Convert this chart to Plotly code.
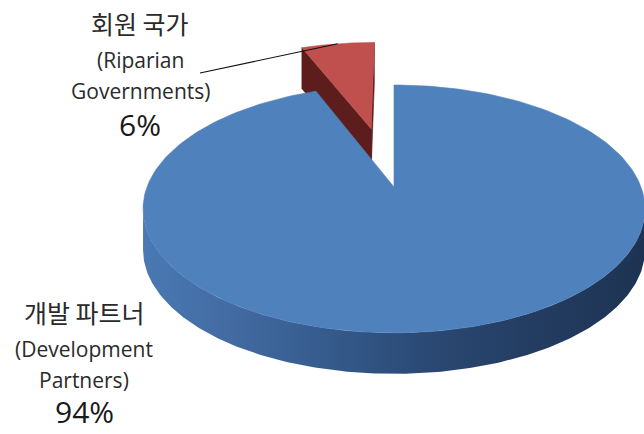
import numpy as np
import plotly.graph_objects as go

# Funding shares, clockwise from 12 o'clock
labels_ko = ["개발 파트너", "회원 국가"]
labels_en = [["(Development", "Partners)"], ["(Riparian", "Governments)"]]
shares = [94, 6]

top_colors = ["#4F81BD", "#C0504D"]
face_colors = ["#2c4c7a", "#5c1d1c"]
side_scales = [
    [[0.0, "#4a79b3"], [0.2, "#4169a0"], [0.4, "#335888"], [0.55, "#2b4a76"],
     [0.75, "#243e63"], [1.0, "#1e3353"]],
    [[0.0, "#8a3533"], [1.0, "#5c1d1c"]],
]
explode = [0.0, 0.54]

# Projection of the disc's top onto the page (page pixels, y down);
# the wall is an extrusion straight down the page by THICK_PX.
W, H = 644, 434
CX, CY = 394.0, 187.0
K = 247.0
ALPHA = np.arcsin(0.486)
DIST = 4.94
THICK_PX = 41.0
CA, SA = np.cos(ALPHA), np.sin(ALPHA)
CAM = np.array([0.0, DIST * SA, DIST * CA])


def project(X, Z):
    X, Z = np.asarray(X, float), np.asarray(Z, float)
    u = -Z * SA
    w = Z * CA
    s = DIST / (DIST - w)
    return CX + K * X * s, CY - K * u * s


def rim(theta_deg, off):
    t = np.radians(theta_deg)
    return np.sin(t) + off[0], -np.cos(t) + off[1]


def faces_camera(normal_xz, point_xz):
    v = CAM - np.array([point_xz[0], 0.0, point_xz[1]])
    return normal_xz[0] * v[0] + normal_xz[1] * v[2] > 1e-6


total = sum(shares)
bounds = np.concatenate([[0.0], np.cumsum(shares) / total * 360.0])

# the wall is seen between the outline's right-most and left-most points
full = np.linspace(0, 360, 3601)
fx_full, _ = project(*rim(full, (0.0, 0.0)))
wall_from = full[np.argmax(fx_full)]
wall_to = full[np.argmin(fx_full)]

fig = go.Figure()
slices = []
for i, v in enumerate(shares):
    a, b = bounds[i], bounds[i + 1]
    mid = np.radians((a + b) / 2)
    off = (explode[i] * np.sin(mid), -explode[i] * np.cos(mid))
    depth = -np.cos(mid) * (1 + explode[i])
    slices.append((depth, i, a, b, off))

# paint far slices first
for depth, i, a, b, off in sorted(slices, key=lambda s: s[0]):
    th = np.linspace(a, b, 240)

    # outer curved wall (front part only)
    lo, hi = max(a, wall_from), min(b, wall_to)
    if hi > lo:
        tv = np.linspace(lo, hi, 240)
        xt, yt = project(*rim(tv, off))
        xs = np.concatenate([xt, xt[::-1], xt[:1]])
        ys = np.concatenate([yt, yt[::-1] + THICK_PX, yt[:1]])
        fig.add_trace(go.Scatter(
            x=xs, y=ys, mode="lines", fill="toself",
            fillgradient=dict(type="horizontal", colorscale=side_scales[i],
                              start=float(xs.min()), stop=float(xs.max())),
            line=dict(width=0), hoverinfo="skip", showlegend=False))

    # flat cut faces along the two radii
    for ang, sign in ((a, -1.0), (b, 1.0)):
        tr = np.radians(ang)
        normal = (sign * np.cos(tr), sign * np.sin(tr))
        if not faces_camera(normal, off):
            continue
        px, py = project([off[0], np.sin(tr) + off[0]],
                         [off[1], -np.cos(tr) + off[1]])
        fx = [px[0], px[1], px[1], px[0], px[0]]
        fy = [py[0], py[1], py[1] + THICK_PX, py[0] + THICK_PX, py[0]]
        fig.add_trace(go.Scatter(
            x=fx, y=fy, mode="lines", fill="toself", fillcolor=face_colors[i],
            line=dict(width=0.6, color=face_colors[i]),
            hoverinfo="skip", showlegend=False))

    # top surface
    xt, yt = project(*rim(th, off))
    ax, ay = project(off[0], off[1])
    fig.add_trace(go.Scatter(
        x=np.concatenate([[ax], xt, [ax]]), y=np.concatenate([[ay], yt, [ay]]),
        mode="lines", fill="toself", fillcolor=top_colors[i],
        line=dict(width=0.6, color=top_colors[i]),
        hoverinfo="skip", showlegend=False))

# labels
pct = [f"{round(v / total * 100)}%" for v in shares]
label_pos = [
    dict(x=84, ys=[312, 349, 380, None]),
    dict(x=140, ys=[23, 60, 91, 124]),
]
ko_font = dict(family="Noto Sans CJK KR", size=25, color="#2a2a2a")
en_font = dict(family="Open Sans", size=21, color="#2a2a2a")
pc_font = dict(family="Open Sans", size=30, color="#1a1a1a")
for i in range(len(shares)):
    pos = label_pos[i]
    texts = [labels_ko[i]] + labels_en[i] + [pct[i]]
    fonts = [ko_font, en_font, en_font, pc_font]
    for t, yy, f in zip(texts, pos["ys"], fonts):
        if yy is None:
            # last line sits on the bottom edge of the page
            fig.add_annotation(x=pos["x"], y=H, xref="x", yref="y", text=t,
                               showarrow=False, xanchor="center",
                               yanchor="bottom", font=f)
        else:
            fig.add_annotation(x=pos["x"], y=yy, xref="x", yref="y", text=t,
                               showarrow=False, xanchor="center",
                               yanchor="middle", font=f)

# leader line from the small slice's outer edge to its label
a, b = bounds[1], bounds[2]
mid = np.radians((a + b) / 2)
off = (explode[1] * np.sin(mid), -explode[1] * np.cos(mid))
lx, ly = project(np.sin(mid) + off[0], -np.cos(mid) + off[1])
fig.add_shape(type="line", x0=200, y0=73, x1=float(lx), y1=float(ly),
              xref="x", yref="y", line=dict(color="#111111", width=1.1))

fig.update_layout(
    width=W, height=H, margin=dict(l=0, r=0, t=0, b=0),
    paper_bgcolor="white", plot_bgcolor="white", showlegend=False,
    xaxis=dict(range=[0, W], visible=False, fixedrange=True),
    yaxis=dict(range=[H, 0], visible=False, fixedrange=True),
)
fig.write_html("out.html", config=dict(displayModeBar=False))
